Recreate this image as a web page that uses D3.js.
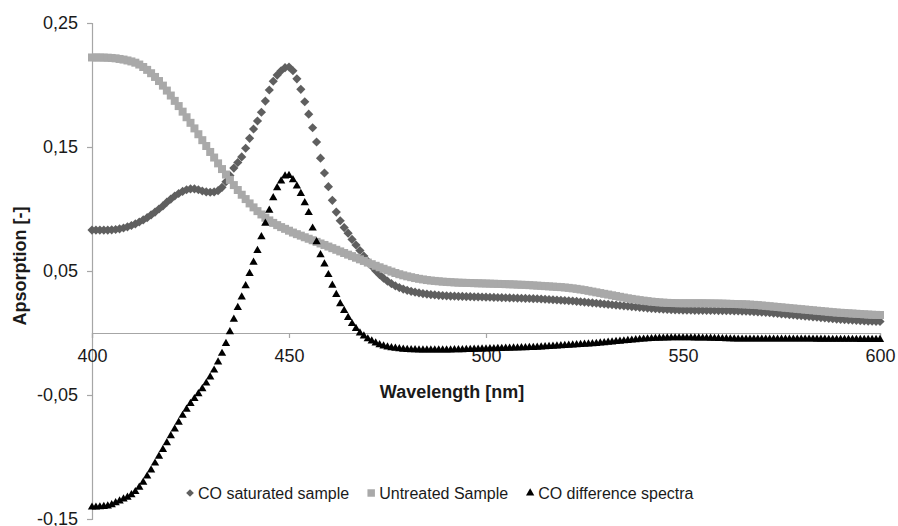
<!DOCTYPE html>
<html>
<head>
<meta charset="utf-8">
<script src="https://cdn.jsdelivr.net/npm/d3@7"></script>
<style>
  html, body { margin: 0; padding: 0; background: #fff; }
  svg { display: block; font-family: Arial, "Liberation Sans", sans-serif; }
</style>
</head>
<body>
<svg id="chart" width="898" height="526"></svg>
<script>
// ---- data (wavelength 400..600 nm, step 1 nm) ----
const wavelengthStart = 400;
const wavelengthStep = 1;

const coSaturated = [
  0.083, 0.083, 0.083, 0.083, 0.083, 0.0832, 0.0835, 0.084, 0.0847, 0.0856,
  0.0867, 0.088, 0.0895, 0.0912, 0.093, 0.0952, 0.0975, 0.1, 0.1025, 0.1055,
  0.108, 0.1105, 0.1125, 0.1142, 0.1155, 0.1162, 0.1162, 0.1155, 0.1145, 0.1138,
  0.1135, 0.1138, 0.1148, 0.1175, 0.122, 0.127, 0.133, 0.1375, 0.142, 0.149,
  0.157, 0.1645, 0.171, 0.178, 0.187, 0.196, 0.203, 0.208, 0.2115, 0.214,
  0.2145, 0.2115, 0.205, 0.1965, 0.1865, 0.1765, 0.1655, 0.154, 0.141, 0.129,
  0.118, 0.107, 0.0975, 0.0905, 0.085, 0.0805, 0.0755, 0.071, 0.0665, 0.062,
  0.0578, 0.0538, 0.0502, 0.047, 0.0442, 0.0418, 0.0398, 0.038, 0.0366, 0.0354,
  0.0344, 0.0336, 0.0329, 0.0323, 0.0318, 0.0314, 0.031, 0.0307, 0.0304, 0.0302,
  0.03, 0.0298, 0.0297, 0.0296, 0.0295, 0.0294, 0.0293, 0.0292, 0.0291, 0.029,
  0.0289, 0.0288, 0.0287, 0.0286, 0.0285, 0.0284, 0.0283, 0.0282, 0.0281, 0.028,
  0.0279, 0.0278, 0.0277, 0.0276, 0.0274, 0.0272, 0.027, 0.0268, 0.0266, 0.0264,
  0.0262, 0.026, 0.0258, 0.0255, 0.0252, 0.0249, 0.0246, 0.0243, 0.024, 0.0237,
  0.0234, 0.0231, 0.0228, 0.0225, 0.0222, 0.0219, 0.0216, 0.0213, 0.021, 0.0207,
  0.0204, 0.0201, 0.0198, 0.0196, 0.0194, 0.0192, 0.019, 0.0188, 0.0187, 0.0186,
  0.0185, 0.0184, 0.0184, 0.0183, 0.0183, 0.0183, 0.0182, 0.0182, 0.0182, 0.0181,
  0.0181, 0.018, 0.018, 0.0179, 0.0178, 0.0177, 0.0176, 0.0174, 0.0172, 0.017,
  0.0168, 0.0166, 0.0163, 0.016, 0.0157, 0.0154, 0.0151, 0.0148, 0.0145, 0.0142,
  0.0139, 0.0136, 0.0133, 0.013, 0.0127, 0.0124, 0.0121, 0.0118, 0.0115, 0.0112,
  0.011, 0.0108, 0.0106, 0.0104, 0.0102, 0.01, 0.0098, 0.0096, 0.0095, 0.0094,
  0.0093
];

const untreated = [
  0.2222, 0.2222, 0.2222, 0.2221, 0.222, 0.2218, 0.2215, 0.221, 0.2205, 0.2198,
  0.219, 0.218, 0.2165, 0.2145, 0.2122, 0.2095, 0.2065, 0.2032, 0.1995, 0.1955,
  0.1915, 0.1872, 0.183, 0.1785, 0.174, 0.1695, 0.165, 0.1603, 0.1555, 0.1508,
  0.146, 0.1415, 0.1368, 0.1322, 0.1278, 0.1235, 0.1193, 0.1153, 0.1115, 0.108,
  0.1045, 0.1013, 0.0983, 0.0956, 0.093, 0.0908, 0.0888, 0.087, 0.0854, 0.084,
  0.0825, 0.081, 0.0797, 0.0785, 0.0772, 0.076, 0.0748, 0.0735, 0.0722, 0.071,
  0.0697, 0.0684, 0.0671, 0.0658, 0.0645, 0.0632, 0.062, 0.0607, 0.0594, 0.0581,
  0.0568, 0.0555, 0.0542, 0.053, 0.0518, 0.0506, 0.0495, 0.0484, 0.0474, 0.0465,
  0.0457, 0.045, 0.0443, 0.0437, 0.0432, 0.0427, 0.0423, 0.042, 0.0417, 0.0414,
  0.0412, 0.041, 0.0408, 0.0406, 0.0405, 0.0404, 0.0403, 0.0402, 0.0401, 0.04,
  0.0399, 0.0398, 0.0397, 0.0396, 0.0395, 0.0394, 0.0393, 0.0392, 0.039, 0.0389,
  0.0388, 0.0386, 0.0384, 0.0382, 0.038, 0.0378, 0.0376, 0.0374, 0.0372, 0.037,
  0.0367, 0.0364, 0.036, 0.0356, 0.0351, 0.0346, 0.034, 0.0334, 0.0328, 0.0322,
  0.0316, 0.031, 0.0304, 0.0298, 0.0292, 0.0286, 0.028, 0.0275, 0.027, 0.0265,
  0.0261, 0.0257, 0.0253, 0.025, 0.0247, 0.0245, 0.0243, 0.0242, 0.0241, 0.024,
  0.024, 0.024, 0.024, 0.024, 0.024, 0.024, 0.0239, 0.0239, 0.0238, 0.0238,
  0.0237, 0.0236, 0.0235, 0.0234, 0.0233, 0.0232, 0.0231, 0.0229, 0.0227, 0.0225,
  0.0222, 0.0219, 0.0216, 0.0213, 0.021, 0.0207, 0.0204, 0.0201, 0.0198, 0.0195,
  0.0192, 0.0189, 0.0186, 0.0183, 0.018, 0.0177, 0.0174, 0.0171, 0.0168, 0.0165,
  0.0163, 0.0161, 0.0159, 0.0157, 0.0155, 0.0153, 0.0151, 0.0149, 0.0147, 0.0146,
  0.0145
];

const coDifference = [
  -0.1405, -0.1405, -0.1403, -0.14, -0.1395, -0.1385, -0.137, -0.1355, -0.134, -0.1325,
  -0.1305, -0.128, -0.1245, -0.1205, -0.1155, -0.1105, -0.105, -0.0995, -0.094, -0.0885,
  -0.083, -0.0775, -0.072, -0.0665, -0.0615, -0.057, -0.053, -0.049, -0.045, -0.0405,
  -0.0355, -0.03, -0.0235, -0.0165, -0.0085, 0.001, 0.011, 0.0205, 0.029, 0.038,
  0.048, 0.057, 0.0665, 0.0775, 0.0885, 0.099, 0.109, 0.117, 0.1225, 0.1265,
  0.127, 0.1235, 0.1185, 0.1125, 0.105, 0.097, 0.0845, 0.0735, 0.063, 0.0555,
  0.047, 0.0385, 0.031, 0.0235, 0.018, 0.0125, 0.0075, 0.0035, 0.0, -0.0025,
  -0.0048, -0.0065, -0.0082, -0.0095, -0.0105, -0.0113, -0.0119, -0.0124, -0.0128, -0.0131,
  -0.0133, -0.0135, -0.0136, -0.0137, -0.0137, -0.0138, -0.0138, -0.0138, -0.0138, -0.0138,
  -0.0137, -0.0137, -0.0136, -0.0136, -0.0135, -0.0134, -0.0133, -0.0132, -0.0131, -0.013,
  -0.0129, -0.0128, -0.0127, -0.0126, -0.0125, -0.0124, -0.0123, -0.0122, -0.0121, -0.012,
  -0.0119, -0.0118, -0.0117, -0.0116, -0.0114, -0.0112, -0.011, -0.0108, -0.0106, -0.0104,
  -0.0102, -0.01, -0.0098, -0.0096, -0.0094, -0.0092, -0.009, -0.0088, -0.0085, -0.0082,
  -0.0079, -0.0076, -0.0073, -0.007, -0.0067, -0.0064, -0.0061, -0.0058, -0.0055, -0.0052,
  -0.005, -0.0048, -0.0046, -0.0044, -0.0043, -0.0042, -0.0041, -0.004, -0.004, -0.004,
  -0.004, -0.004, -0.004, -0.0041, -0.0041, -0.0042, -0.0042, -0.0043, -0.0044, -0.0045,
  -0.0046, -0.0047, -0.0048, -0.0049, -0.005, -0.005, -0.005, -0.005, -0.005, -0.005,
  -0.005, -0.005, -0.005, -0.005, -0.005, -0.005, -0.005, -0.005, -0.005, -0.005,
  -0.005, -0.005, -0.005, -0.005, -0.0051, -0.0051, -0.0051, -0.0052, -0.0052, -0.0052,
  -0.0052, -0.0052, -0.0052, -0.0052, -0.0052, -0.0053, -0.0053, -0.0053, -0.0053, -0.0053,
  -0.0053
];

const xTickValues = [400, 450, 500, 550, 600];
const yTickValues = [0.25, 0.15, 0.05, -0.05, -0.15];
const seriesNames = ["CO saturated sample", "Untreated Sample", "CO difference spectra"];
const xTitle = "Wavelength [nm]";
const yTitle = "Apsorption [-]";

// ---- layout ----
const svg = d3.select("#chart");
const fmt = v => d3.format(".2f")(v).replace(".", ",").replace("\u2212", "-");

const x = d3.scaleLinear().domain([400, 600]).range([92, 880]);
const y = d3.scaleLinear().domain([-0.15, 0.25]).range([519, 23]);

const axisColor = "#a6a6a6";
const textColor = "#1a1a1a";

// y axis
const yAxis = d3.axisLeft(y).tickValues(yTickValues).tickFormat(fmt).tickSize(5).tickPadding(9);
const gy = svg.append("g").attr("transform", `translate(${x(400)},0)`).call(yAxis);
gy.select(".domain").attr("stroke", axisColor).attr("stroke-width", 1.2);
gy.selectAll(".tick line").attr("stroke", axisColor).attr("stroke-width", 1.2);
gy.selectAll(".tick text").attr("fill", textColor).style("font-size", "18px")
  .style("font-family", "Arial, 'Liberation Sans', sans-serif");

// x axis at y = 0
const xAxis = d3.axisBottom(x).tickValues(xTickValues).tickFormat(d3.format("d")).tickSize(5).tickPadding(11);
const gx = svg.append("g").attr("transform", `translate(0,${y(0)})`).call(xAxis);
gx.select(".domain").attr("stroke", axisColor).attr("stroke-width", 1.2);
gx.selectAll(".tick line").attr("stroke", axisColor).attr("stroke-width", 1.2);
gx.selectAll(".tick text").attr("fill", textColor).style("font-size", "18px")
  .style("font-family", "Arial, 'Liberation Sans', sans-serif");

// titles
svg.append("text").attr("x", 452).attr("y", 398).attr("text-anchor", "middle")
  .style("font-size", "18px").style("font-weight", "bold").attr("fill", textColor).text(xTitle);
svg.append("text").attr("transform", "translate(26,266) rotate(-90)").attr("text-anchor", "middle")
  .style("font-size", "18px").style("font-weight", "bold").attr("fill", textColor).text(yTitle);

// ---- series ----
const symDiamond = d3.symbol().type(d3.symbolSquare).size(42)();
const symSquare = d3.symbol().type(d3.symbolSquare).size(64)();
const symTriangle = d3.symbol().type(d3.symbolTriangle).size(30)();

const series = [
  { name: seriesNames[0], values: coSaturated, color: "#5f5f5f", path: symDiamond, rot: 45 },
  { name: seriesNames[1], values: untreated, color: "#a9a9a9", path: symSquare, rot: 0 },
  { name: seriesNames[2], values: coDifference, color: "#000000", path: symTriangle, rot: 0 }
];

series.forEach(s => {
  svg.append("g").selectAll("path").data(s.values).join("path")
    .attr("d", s.path)
    .attr("transform", (d, i) => `translate(${x(wavelengthStart + i * wavelengthStep)},${y(d)}) rotate(${s.rot})`)
    .attr("fill", s.color);
});

// ---- legend ----
const legend = svg.append("g").attr("transform", "translate(0,493)");
let cx = 190;
series.forEach((s, i) => {
  const lp = s === series[0] ? d3.symbol().type(d3.symbolSquare).size(30)()
           : s === series[1] ? d3.symbol().type(d3.symbolSquare).size(56)()
           : d3.symbol().type(d3.symbolTriangle).size(30)();
  legend.append("path").attr("d", lp).attr("transform", `translate(${cx},0) rotate(${s.rot})`).attr("fill", s.color);
  const t = legend.append("text").attr("x", cx + 8).attr("y", 6).style("font-size", "16px")
    .attr("fill", textColor).text(s.name);
  const w = t.node().getComputedTextLength();
  cx = cx + 8 + w + 22;
});
</script>
</body>
</html>
